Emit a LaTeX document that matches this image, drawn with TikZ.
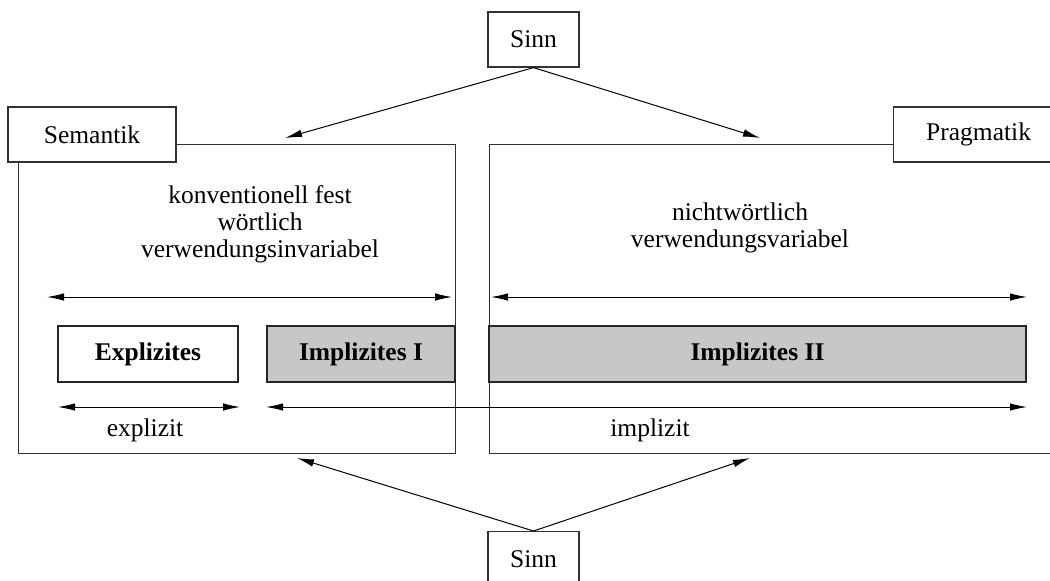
\documentclass[tikz,border=0pt]{standalone}
\usepackage{fontspec}
\setmainfont{Liberation Serif}
\usetikzlibrary{arrows.meta, positioning}

\newcommand\bildschrift{\fontsize{25.5}{27}\selectfont}

\tikzset{
  titlebox/.style={draw=black!80, fill=white, line width=1.2pt, minimum height=55pt, inner sep=0pt},
  field/.style={draw=black!80, line width=1.2pt, inner sep=0pt},
  part/.style={draw=black!85, line width=1.2pt, minimum height=56pt, inner sep=0pt, font=\bildschrift\bfseries},
  graypart/.style={part, fill=black!22},
  pointer/.style={->, line width=1pt},
  span/.style={<->, line width=1pt},
}

\begin{document}
\begin{tikzpicture}[x=1pt, y=-1pt, >={Latex[length=17pt,width=7.5pt]}, font=\bildschrift]
  \path[use as bounding box, clip] (0,0) rectangle (1050,581);
  % Felder
  \node[field, anchor=north west, minimum width=437pt, minimum height=309pt] (semfeld) at (18,144) {};
  \node[field, anchor=north west, minimum width=600pt, minimum height=309pt] (pragfeld) at (489,144) {};
  % Kopfkaesten
  \node[titlebox, minimum width=168pt] (sem) at (92,134.5) {Semantik};
  \node[titlebox, minimum width=170pt, anchor=west] (prag) at (893,134.5) {Pragmatik};
  \node[titlebox, minimum width=91pt] (sinnoben) at (533.5,39.5) {Sinn};
  \node[titlebox, minimum width=91pt, anchor=north] (sinnunten) at (533.5,531) {Sinn};
  % Beschreibungen
  \node[align=center] (semtext) at (260,224) {konventionell fest\\wörtlich\\verwendungsinvariabel};
  \node[align=center] (pragtext) at (740,227.5) {nichtwörtlich\\verwendungsvariabel};
  % Bereiche
  \node[part, minimum width=180pt] (expl) at (148,354) {Explizites};
  \node[graypart, minimum width=188pt] (impl1) at (361,354) {Implizites I};
  \node[graypart, minimum width=537pt] (impl2) at (757.5,354) {Implizites II};
  % Pfeile
  \coordinate (semL) at (47,297);
  \coordinate (semR) at (452,297);
  \coordinate (pragL) at (491,297);
  \coordinate (pragR) at (1027,297);
  \coordinate (explL) at (58,407);
  \coordinate (explR) at (240,407);
  \coordinate (implL) at (266,407);
  \coordinate (implR) at (1027,407);
  \draw[span] (semL) -- (semR);
  \draw[span] (pragL) -- (pragR);
  \draw[span] (explL) -- (explR);
  \draw[span] (implL) -- (implR);
  \node (expllabel) at (145,430) {explizit};
  \node (impllabel) at (650,430) {implizit};
  \coordinate (semoben) at (285,138);
  \coordinate (pragoben) at (760,138);
  \coordinate (semunten) at (297,458);
  \coordinate (pragunten) at (750,458);
  \draw[pointer] (sinnoben.south) -- (semoben);
  \draw[pointer] (sinnoben.south) -- (pragoben);
  \draw[pointer] (sinnunten.north) -- (semunten);
  \draw[pointer] (sinnunten.north) -- (pragunten);
\end{tikzpicture}
\end{document}
